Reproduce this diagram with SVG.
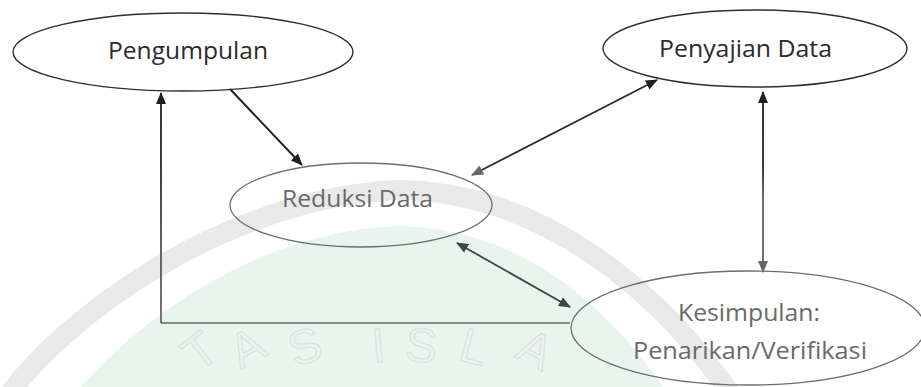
<svg xmlns="http://www.w3.org/2000/svg" width="921" height="387" viewBox="0 0 921 387">
  <style>
    .lbl { font-family: "Open Sans", "Noto Sans", "DejaVu Sans", sans-serif; font-size: 24px; text-anchor: middle; }
    .dark { fill: #2b2b2b; }
    .grey { fill: #6a6a6a; }
    .node-dark { fill: none; stroke: #2e2e2e; stroke-width: 1.4; }
    .node-grey { fill: none; stroke: #6e6e6e; stroke-width: 1.3; }
    .wm { font-family: "Liberation Sans", Arial, sans-serif; font-size: 48px; fill: none; stroke: #dedede; stroke-width: 1.2; text-anchor: middle; }
  </style>
  <defs>
    <marker id="ahDark" viewBox="0 0 12 10" refX="11" refY="5" markerWidth="12" markerHeight="10" markerUnits="userSpaceOnUse" orient="auto-start-reverse">
      <path d="M0,0 L12,5 L0,10 z" fill="#1f1f1f"/>
    </marker>
    <marker id="ahMid" viewBox="0 0 12 10" refX="11" refY="5" markerWidth="12" markerHeight="10" markerUnits="userSpaceOnUse" orient="auto-start-reverse">
      <path d="M0,0 L12,5 L0,10 z" fill="#444444"/>
    </marker>
    <marker id="ahGrey" viewBox="0 0 12 10" refX="11" refY="5" markerWidth="12" markerHeight="10" markerUnits="userSpaceOnUse" orient="auto-start-reverse">
      <path d="M0,0 L12,5 L0,10 z" fill="#666666"/>
    </marker>
    <linearGradient id="gV1" gradientUnits="userSpaceOnUse" x1="0" y1="92" x2="0" y2="272">
      <stop offset="0" stop-color="#1f1f1f"/>
      <stop offset="0.4" stop-color="#222222"/>
      <stop offset="0.6" stop-color="#5e5e5e"/>
      <stop offset="1" stop-color="#5e5e5e"/>
    </linearGradient>
    <linearGradient id="gV2" gradientUnits="userSpaceOnUse" x1="0" y1="93" x2="0" y2="323">
      <stop offset="0" stop-color="#1f1f1f"/>
      <stop offset="0.3" stop-color="#262626"/>
      <stop offset="0.7" stop-color="#555555"/>
      <stop offset="1" stop-color="#666666"/>
    </linearGradient>
  </defs>

  <rect width="921" height="387" fill="#ffffff"/>

  <g id="watermark">
    <path d="M5 400 C60 320, 220 200, 395 190 C540 190, 660 290, 735 400" fill="none" stroke="#e9e9e9" stroke-width="20"/>
    <path d="M70 400 C125 330, 250 232, 395 226 C530 226, 620 320, 672 400 Z" fill="#e8f5ee"/>
    <text class="wm" transform="translate(210,364) rotate(-38)">T</text>
    <text class="wm" transform="translate(255,362) rotate(-28)">A</text>
    <text class="wm" transform="translate(310,362) rotate(-18)">S</text>
    <text class="wm" transform="translate(380,362) rotate(-5)">I</text>
    <text class="wm" transform="translate(420,362) rotate(5)">S</text>
    <text class="wm" transform="translate(470,363) rotate(15)">L</text>
    <text class="wm" transform="translate(528,364) rotate(27)">A</text>
  </g>

  <g id="connectors">
    <line x1="230" y1="89" x2="302" y2="165" stroke="#222222" stroke-width="2" marker-end="url(#ahDark)"/>
    <line x1="472" y1="175" x2="657" y2="80" stroke="#2a2a2a" stroke-width="1.8" marker-start="url(#ahGrey)" marker-end="url(#ahDark)"/>
    <line x1="763" y1="92" x2="763" y2="272" stroke="url(#gV1)" stroke-width="1.8" marker-start="url(#ahDark)" marker-end="url(#ahGrey)"/>
    <line x1="457" y1="243" x2="570" y2="307" stroke="#444444" stroke-width="1.8" marker-start="url(#ahMid)" marker-end="url(#ahMid)"/>
    <line x1="570" y1="323" x2="161" y2="323" stroke="#7f8c85" stroke-width="1.8"/>
    <line x1="161" y1="323" x2="161" y2="93" stroke="url(#gV2)" stroke-width="1.8" marker-end="url(#ahDark)"/>
  </g>

  <g id="node-pengumpulan">
    <ellipse class="node-dark" cx="183" cy="52" rx="170" ry="39"/>
    <text class="lbl dark" x="188" y="59" textLength="160" lengthAdjust="spacingAndGlyphs">Pengumpulan</text>
  </g>
  <g id="node-penyajian">
    <ellipse class="node-dark" cx="755" cy="48.5" rx="152" ry="38.5"/>
    <text class="lbl dark" x="745.5" y="57" textLength="173" lengthAdjust="spacingAndGlyphs">Penyajian Data</text>
  </g>
  <g id="node-reduksi">
    <ellipse class="node-grey" cx="361" cy="205" rx="131" ry="42"/>
    <text class="lbl grey" x="357.5" y="207" textLength="151" lengthAdjust="spacingAndGlyphs">Reduksi Data</text>
  </g>
  <g id="node-kesimpulan">
    <ellipse class="node-grey" cx="748" cy="328" rx="177" ry="57"/>
    <text class="lbl grey" x="749" y="321" textLength="142" lengthAdjust="spacingAndGlyphs">Kesimpulan:</text>
    <text class="lbl grey" x="750" y="359" textLength="234" lengthAdjust="spacingAndGlyphs">Penarikan/Verifikasi</text>
  </g>
</svg>
